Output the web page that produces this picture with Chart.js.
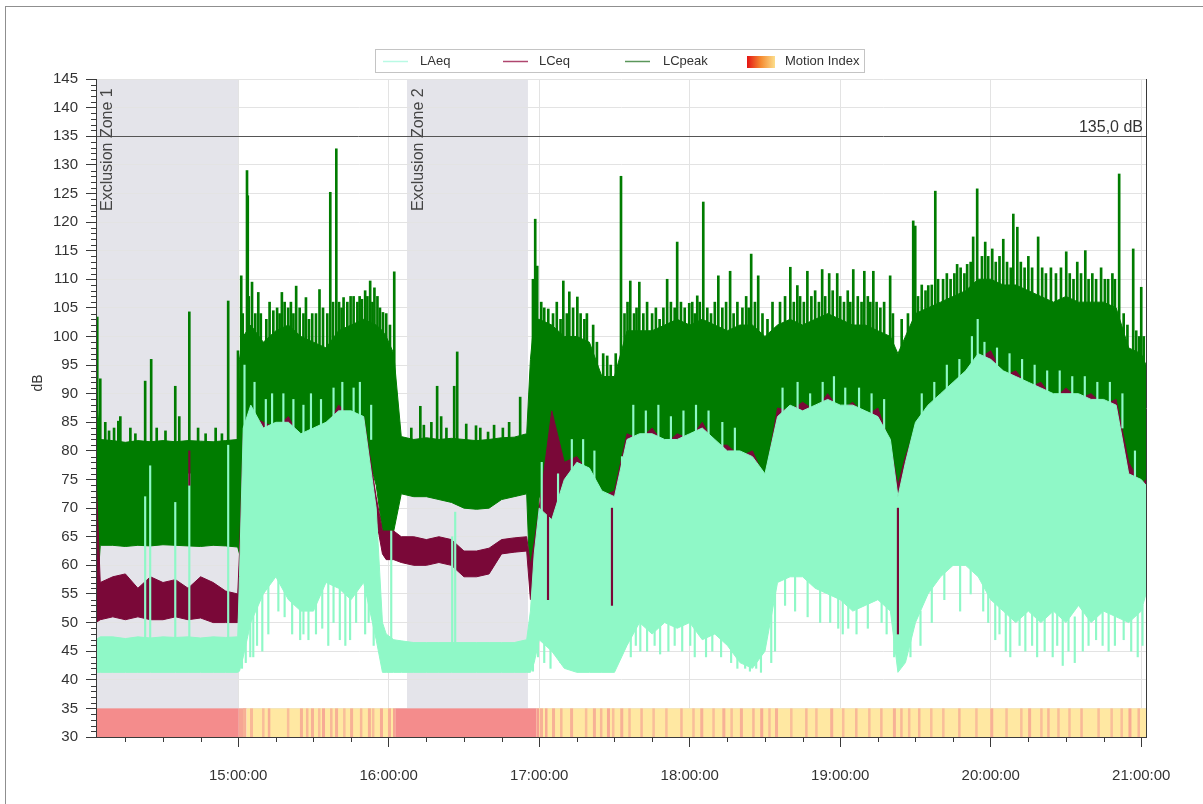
<!DOCTYPE html>
<html>
<head>
<meta charset="utf-8">
<title>Noise monitoring – LAeq / LCeq / LCpeak</title>
<script src="https://cdn.jsdelivr.net/npm/chart.js@4.4.1/dist/chart.umd.min.js"></script>
<style>
  html, body { margin: 0; padding: 0; background: #fff; overflow: hidden; }
  #frame { position: absolute; left: 5px; top: 6px; width: 1400px; height: 1000px;
           border: 1px solid #8f8f8f; box-sizing: border-box; }
  #wrap { position: absolute; left: 0; top: 0; width: 1203px; height: 804px; }
</style>
</head>
<body>
<div id="frame"></div>
<div id="wrap"><canvas id="chart" width="1203" height="804"></canvas></div>
<script>
// ---- time axis: minutes after 14:00 ----
const minutes = [3.3,5,10,15,20,25,30,35,40,45,50,55,59.8,
  60.5,62,65,70,75,80,85,90,95,100,105,110,115,117.5,
  119,122,125,130,135,140,145,150,155,160,165,170,175,
  176.5,178,180,185,190,195,200,205,210,215,220,225,230,235,240,245,250,255,260,265,270,
  275,280,285,290,295,300,305,310,315,320,323,326,330,335,340,345,350,355,360,365,370,375,380,385,390,395,400,405,410,415,420,421.9];

// ---- LCpeak envelope (dB) ----
const lcpeakHigh = [90,82,81.8,81.5,81.8,81.6,81.8,81.6,81.8,81.7,81.6,81.8,82,
  96,100,102,99,101,102,100,99,98,101,102,103,102,101,
  100,97,82.5,82,82.3,82,82.2,82,81.8,82,82.3,82.4,83,
  96,103,103,102,100,100,99,93,93,101,101,101,102,103,102,103,102,101,102,102,100,
  102,103,102,103,104,103,102,102,101,100,97,100,104,105,106,107,108,110,110,109,109,108,107,106,107,106,106,106,105,98,97,95];
const lcpeakLow = [52,63.5,63.5,63.3,63.5,63.4,63.6,63.5,63.4,63.3,63.5,63.4,63.2,
  62,76,80,79,80,80,78,79,80,82,82,82,74,66,
  64,66,72.5,72,72,71.5,71,70,69.8,70,71.5,72,72.5,
  55,60,72,70,74,75,75,71,69,78,79,79,79,79,80,80,78,77,77,76,72,
  82,84,83,84,85,84,84,83,82,78,68,74,81,84,86,88,90,93,92,90,89,88,87,86,86,86,85,85,84,72,71,70];

// ---- LCeq envelope (dB) ----
const lceqHigh = [76,57,58,58.5,56,58,57,57.5,56,58,57,55.5,55,
  62,83,86,85,84,86,82,83,84,88,86,86,72,66,
  66,66,65,65,64.5,65,64.5,62.5,62.5,63,64.5,64.8,65,
  60,64,70,87,78,79,76,72,73,83,82,84,81,83,82,85,81,81,79,80,75,
  87.5,87,88.5,87,90,87,88.5,86,87.5,81,74,79,84,87,89,91,93,96,97.5,93,94,91,92,89,91,89,90,88,89,78,74,75];
const lceqLow = [50,50.5,51,50.5,51,50.5,50.5,51,50.5,50.8,50,50,50,
  55,72,78,76,78,77,76,78,78,80,80,80,68,62,
  61,61,60.5,60,60,60.5,60,58,58,58.5,62,62.3,62.5,
  54,58,64,67,72,74,73,70,68,78,79,79,78,78,79,80,78,76,76,75,72,
  80,82,81,82,83,82,82,81,80,76,66,72,79,82,84,86,88,91,90,88,87,86,85,84,84,84,83,83,82,70,69,68];

// ---- LAeq envelope (dB) ----
const laeqHigh = [47,47.5,47.5,47.2,47.5,47.3,47.5,47.4,47.5,47.3,47.5,47.4,47.5,
  58,84,88,84,85,85,83,84,85,87,87,86,70,50,
  48,47,46.8,46.5,46.5,46.5,46.5,46.5,46.5,46.5,46.5,46.5,47,
  52,62,70,68,75,78,77,73,72,82,83,83,82,82,83,84,82,80,80,79,76,
  86,88,87,88,89,88,88,87,86,82,72,78,85,88,90,92,94,97,96,94,93,92,91,90,90,90,89,89,88,76,75,74];
const laeqLow = [41.3,41.3,41.3,41.3,41.3,41.3,41.3,41.3,41.3,41.3,41.3,41.3,41.3,
  41.5,44,50,55,58,54,52,52,57,56,54,57,47,41.3,
  41.3,41.3,41.3,41.3,41.3,41.3,41.3,41.3,41.3,41.3,41.3,41.3,41.3,
  41.3,43,47,45,42,41.3,41.3,41.3,41.3,46,50,48,50,49,50,47,48,46,43,42,45,
  57,58,58,56,55,54,52,53,54,52,41.3,43,50,55,58,60,60,58,54,52,50,52,50,52,50,53,50,52,51,50,52,55];

// ---- short LCpeak events: [minute, from dB, to dB] ----
const lcpeakSpikes = [
  [3.8,80,103.4],[5,80,92.6],[7,80,85],[8.5,80,83.5],[10.5,80,84],[12.2,80,85.2],[13,80,86],[17,80,84],
  [19,80,83],[22.9,80,92.2],[25.3,80,96],[27.5,80,84],[31,80,83.5],[34.9,80,91.3],[36.5,80,86],
  [40.5,80,104.3],[44,80,84],[47,80,83],[51,80,84],[53.5,80,83],[56,80,106.2],[59.9,80,97.5],
  [61.2,90,110.6],[61.8,95,104],[63.5,95,129],[63.8,95,124.6],[64.2,95,107],[65.5,95,109.5],
  [66.8,95,104],[68,95,107.7],[69,95,104],[71.2,95,103],[72.5,95,106],[74,95,104.5],[75.5,95,105],
  [76.5,95,104],[77.4,95,107.7],[78.5,95,106],[79.9,95,105],[81,95,106],[82,95,104],[83.1,95,108.8],
  [84.5,95,105],[86,95,104],[87,95,106.8],[88.2,95,103],[89.5,95,104],[91,95,104],[92.4,95,108.2],
  [93.8,95,105],[95.5,95,104],[96.7,95,125.2],[97.8,95,106],[99.1,95,132.8],[100.2,95,106],
  [101.2,95,105],[102,95,106.8],[103.5,95,106],[104.8,95,107],[106,95,107],[107.5,95,106],
  [108.4,95,107],[109.3,95,106.5],[110.6,95,108],[111.5,95,107],[112.6,95,109.7],[113.5,95,106],
  [114.3,95,108.5],[115.5,95,107],[116.5,95,105],[117.7,95,104.2],[119,95,104],[120.5,92,102],
  [122.2,90,111.3],
  [129,80,84],[132.6,80,87.8],[134,80,84.5],[137,80,85],[139.3,80,91.3],[140.9,80,86],[143,80,84],
  [146.1,80,91.3],[147.3,80,97.3],[150.9,80,84.7],[154.8,80,84.4],[156.5,80,84],[159.6,80,83.3],
  [162,80,84.5],[165.5,80,84],[168,80,85],[172.4,80,89.4],
  [177.5,90,110],[178.4,95,120.5],[179.2,95,112.3],[180.8,95,106],[182,95,105],[183.6,95,104.8],
  [185.5,95,104],[187,95,106],[188.5,95,103],[189.6,95,109.7],[191,95,104],[192,95,107.8],
  [193.5,95,105],[195.2,95,106.9],[196.5,95,104],[198,95,103],[199,95,104],[201.5,95,102],
  [203,90,99],[205.5,88,97],[207.1,88,96.6],[208.5,88,95],[210.5,88,97],[212.6,90,128],[214,95,104],
  [215.2,95,106],[216.3,95,109.7],[217.8,95,104],[218.8,95,105],[219.9,95,109.5],[221.5,95,104],
  [223,95,106],[225,95,104],[226.5,95,105],[228,95,103],[229.5,95,105],[231,95,110],[232.5,95,106],
  [234,95,105],[235,95,116.5],[236.5,95,106],[238,95,105],[239.8,95,105.8],[241,95,106],[242,95,104],
  [243,95,107.1],[244,95,106],[245.4,95,123.5],[247,95,105],[248.5,95,104],[250,95,106],[251.4,95,110.6],
  [253,95,105],[254.5,95,106],[256.1,95,111.4],[257.5,95,104],[259,95,106],[261,95,105],[262.5,95,107],
  [263.5,95,105],[264.5,95,114.4],[266,95,106],[267.3,95,110.6],[269,95,104],[271,95,103],[273,95,106],
  [276,95,106],[278,95,107],[280.1,95,112.1],[281.5,95,106],[282.9,95,108.9],[284,95,107],[285.5,95,106],
  [286.9,95,111.4],[288.5,95,107],[290,95,108],[291.5,95,106],[292.8,95,111.7],[294,95,107],
  [295.6,95,111],[297,95,108],[298.8,95,111],[300,95,107],[301.5,95,106],[303,95,108],[304,95,106],
  [305.2,95,111.7],[307,95,107],[308.5,95,106],[309.6,95,111.4],[311,95,107],[312,95,106],
  [313.2,95,111.4],[314.5,95,106],[316,95,105],[317.5,95,106],[319.9,95,110.6],[321,95,104],
  [324.5,92,103],[327,95,104],[329.1,95,120.2],[329.9,95,119.3],[331,95,107],[332.5,95,109],
  [334,95,108],[335.1,95,108.9],[336.5,95,109],[337.9,95,125.4],[339,95,110],[341,95,110],
  [342.5,95,111],[344,95,110],[345.5,95,111],[346.6,100,112.6],[348,100,112],[349.5,100,111],
  [350.6,100,112.6],[352,100,113],[353,100,117.4],[354.6,100,125.8],[356.5,100,114],[357.8,100,116.5],
  [359,100,114],[360.6,100,115.3],[362,100,113],[363.5,100,114],[365,100,117],[366.5,100,113],
  [368,100,112],[369,100,121.4],[370.6,100,119.1],[372,100,113],[373.5,100,112],[375,100,114],
  [376.5,100,112],[378.9,100,117.4],[380.5,100,112],[382,100,111],[384,100,112],[386,100,111],
  [388,100,112],[390.1,100,114.8],[391.5,100,111],[393,100,110],[394.5,100,113],[396,100,111],
  [397.7,100,115],[399,100,110],[400.5,100,111],[402,100,110],[404,100,112],[405.5,100,110],
  [406.8,100,110],[408.5,100,111],[409.5,100,110],[411.2,100,128.4],[413,95,104],[414.5,95,102],
  [416.8,95,115.3],[418,92,101],[419.2,92,100],[420,90,108.6],[421,90,100]
];

// ---- short LCeq events ----
const lceqStreaks = [[40.5,74,80],[183.5,54,70],[209,53,70],[323,48,70]];

// ---- short LAeq events ----
const laeqStreaks = [
  [22.9,47,72],[24.9,47,77.4],[34.9,47,71],[40.5,47,76],[56,47,81],
  [121,47,66],[145.3,46.5,65],[146.5,46.5,69.3],
  [62.5,80,95],[66.5,85,92],[71,82,89],[73.5,82,90],[78,83,90],[82,83,89],[86,80,88],[89,82,90],
  [93,83,89],[98,84,91],[101.5,85,92],[106,85,91],[108.5,84,92],[113,82,88],
  [181,65,78],[187.5,66,76],[193,74,82],[197.5,76,82],[202,74,80],[213,70,79],[217.5,80,88],
  [222.5,81,87],[227.5,81,88],[232.5,80,86],[237.5,80,87],[242.5,81,88],[247.5,81,87],[253,79,85],
  [258,78,84],[277,84,91],[283,85,92],[288,85,90],[293,86,92],[297.5,86,93],[302,86,91],[307.5,86,91],
  [312.5,85,90],[317.5,83,89],[332.5,84,90],[337.5,86,92],[342.5,88,95],[347.5,90,96],[352.5,93,100],
  [354.8,95,103],[357.5,94,99],[362.5,93,98],[367.5,91,97],[372.5,90,96],[377.5,89,95],[382.5,88,94],
  [387.5,88,94],[392.5,88,93],[397.5,87,93],[402.5,87,92],[407.5,86,92],[412.5,84,90],[417.5,74,80],
  [61.5,42,48],[63,43,48],[64.8,44,52],[66,44,52],[67.5,46,55],[69.6,45,56],[72,48,57],[76,52,60],
  [78.5,51,58],[81.5,48,55],[84.7,47,54],[86,48,55],[88,47,54],[91,48,55],[93.5,49,57],[95.9,46,58],
  [98,50,57],[100.5,47,56],[102.7,46,57],[104.6,47,55],[107,50,56],[110.6,48,58],[112,50,57],[114,46,52],
  [177.5,41.5,50],[179.5,44,52],[182,43,49],[184.5,42,47],[186.5,45,50],[188.5,43,48],[216.5,44,48],
  [218.5,46,50],[220.3,45,51],[223,45,50],[226,46,50],[228.2,44.5,51],[231.5,45,51],[234,46,50],
  [237,45,51],[240.2,46,51],[242,44,50],[246.5,44,49],[249,45,50],[252.5,44,49],[256.5,43,47],
  [259,42,46],[262.1,42,45],[264,41.5,44],[266.5,42,45],[268.4,41.3,46],[272.5,43,55],[274,45,58],
  [278,53,58],[282,52,59],[287,51,58],[292,50,57],[296,50,56],[299.2,49,55],[301,48,55],[303.2,49,54],
  [306.5,48,54],[311,49,54],[316.5,50,55],[318.5,48,53],[321.5,44,52],[328,44,50],[332,46,52],
  [336.5,50,56],[341.5,54,59],[347.8,52,61],[352,55,61],[357,52,59],[359,50,56],[361.8,47,55],
  [363.5,48,53],[366,45,53],[367.8,44,53],[371.5,46,51],[373.8,45,53],[376.5,46,53],[378.5,44,51],
  [381.5,45,51],[384.7,44,53],[386.5,46,53],[388.7,42.5,51],[391,45,51],[393.5,43,51],[396.7,45,54],
  [399,46,51],[402,47,52],[404.6,46,53],[407,45,53],[409.5,46,52],[413,47,52],[416,45,51],[418.6,44,52],
  [420.5,46,53]
];

// ---- motion index: [from minute, to minute, level 0..1] ----
const motionEvents = [
  [3.3,60.2,1],[60.2,63.3,0.8],[63.3,122.6,0.04],[122.6,179,1],[179,421.9,0.04],
  [61.9,63,0.7],[64.7,65.9,0.65],[69.5,70.5,0.6],[71.8,72.8,0.7],[79.4,80.4,0.6],[84.6,85.8,0.7],
  [87,88,0.65],[89,90.2,0.7],[91.8,92.8,0.6],[93.4,94.6,0.75],[96.6,97.6,0.65],[98.6,99.8,0.7],
  [101.8,102.8,0.6],[104.6,105.8,0.7],[108.5,109.5,0.65],[111.7,112.9,0.7],[113.3,114.3,0.6],
  [116.5,117.7,0.75],[119.7,120.9,0.7],[121.7,122.6,0.8],
  [179,180,0.85],[180.3,181.5,0.7],[182.3,183.3,0.75],[185.1,186.3,0.7],[188.3,189.3,0.65],
  [192.3,193.5,0.7],[198.2,199.2,0.6],[201.4,202.6,0.7],[204.2,205.2,0.65],[207,208.2,0.75],
  [209,210,0.6],[212.3,213.5,0.7],[215.5,216.5,0.6],[220.3,221.3,0.65],[225.1,226.1,0.6],
  [230.2,231.2,0.6],[236.2,237.2,0.65],[241,242,0.6],[244.2,245.4,0.7],[249,250,0.6],
  [253,254.2,0.7],[256.2,257.2,0.6],[260,261.2,0.7],[264.9,265.9,0.65],[268.1,269.3,0.75],
  [271.3,272.3,0.6],[274,275.2,0.7],[280,281,0.6],[286,287,0.65],[290,291,0.6],[296,297.2,0.7],
  [300.7,301.7,0.6],[305.9,306.9,0.65],[311.1,312.1,0.6],[315.9,316.9,0.65],[321,322.2,0.7],
  [323.9,324.9,0.65],[327,328,0.6],[331,332,0.65],[335.8,336.8,0.6],[340.6,341.6,0.6],
  [347,348,0.65],[353.8,354.8,0.6],[359.8,361,0.7],[365.8,366.8,0.6],[371.7,372.7,0.6],
  [374.9,376.1,0.7],[379.7,380.7,0.6],[382.5,383.5,0.65],[386.5,387.5,0.6],[390.9,391.9,0.6],
  [395.7,396.7,0.65],[402.5,403.5,0.6],[407.7,408.7,0.6],[411.7,412.7,0.6],[414.9,416.1,0.75],
  [418.5,419.5,0.65]
];

// ---- annotations ----
const zoneStart = [3.3, 127.3];
const zoneEnd = [60, 175.5];
const zoneLabels = ['Exclusion Zone 1', 'Exclusion Zone 2'];
const limitValue = 135;
const limitLabel = '135,0 dB';
const hourTicks = [60, 120, 180, 240, 300, 360, 420];
const legendNames = ['LAeq', 'LCeq', 'LCpeak', 'Motion Index'];

// ---- styling ----
const FONT = "'Liberation Sans', Arial, sans-serif";
Chart.defaults.font.family = FONT;
Chart.defaults.color = '#333';
const MINT = 'rgb(143,248,199)';
const MAROON = 'rgb(122,8,56)';
const GREEN = 'rgb(0,124,0)';
const ZONE_FILL = '#e4e4ea';
const GRID = '#e3e3e3';
const AXIS = '#3a3a3a';

const pts = ys => minutes.map((t, i) => ({ x: t, y: ys[i] }));
const bars = rows => rows.map(r => ({ x: r[0], y: [r[1], r[2]] }));

function lineSet(label, ys, colour, fill, order) {
  return { type: 'line', label, data: pts(ys), borderColor: colour, backgroundColor: colour,
           borderWidth: 1, pointRadius: 0, tension: 0, fill, order };
}
function barSet(label, rows, colour, order, thickness) {
  return { type: 'bar', label, data: bars(rows), backgroundColor: colour, borderWidth: 0,
           barThickness: thickness, grouped: false, order };
}

// red → orange → yellow, laid at half strength over white
function motionColour(level) {
  const stops = [[255, 214, 70], [245, 150, 60], [232, 24, 24]];
  const p = Math.max(0, Math.min(1, level)) * 2;
  const i = Math.min(1, Math.floor(p));
  const f = p - i;
  const c = stops[i].map((v, k) => v + (stops[i + 1][k] - v) * f);
  const w = c.map(v => Math.round(255 - (255 - v) * 0.5));
  return `rgb(${w[0]},${w[1]},${w[2]})`;
}

const hourLabel = v => String(14 + Math.round(v / 60)).padStart(2, '0') + ':00:00';

const decorations = {
  id: 'decorations',
  beforeDraw(chart) {
    const { ctx, chartArea: a, scales: { x, y } } = chart;
    ctx.save();
    ctx.fillStyle = ZONE_FILL;
    const yb = y.getPixelForValue(35);
    zoneStart.forEach((s, i) => {
      const x0 = x.getPixelForValue(s), x1 = x.getPixelForValue(zoneEnd[i]);
      ctx.fillRect(x0, a.top, x1 - x0, yb - a.top);
    });
    ctx.restore();
  },
  beforeDatasetsDraw(chart) {
    const { ctx, scales: { x, y } } = chart;
    const y0 = y.getPixelForValue(35), y1 = y.getPixelForValue(30);
    ctx.save();
    motionEvents.forEach(([s, e, lvl]) => {
      const x0 = x.getPixelForValue(s), x1 = x.getPixelForValue(e);
      ctx.fillStyle = motionColour(lvl);
      ctx.fillRect(x0, y0, x1 - x0, y1 - y0);
    });
    ctx.restore();
  },
  afterDatasetsDraw(chart) {
    const { ctx, chartArea: a, scales: { x, y } } = chart;
    ctx.save();
    const ly = Math.round(y.getPixelForValue(limitValue)) + 0.5;
    ctx.strokeStyle = '#555';
    ctx.lineWidth = 1;
    ctx.beginPath(); ctx.moveTo(a.left, ly); ctx.lineTo(a.right, ly); ctx.stroke();
    ctx.fillStyle = '#333';
    ctx.font = '16px ' + FONT;
    ctx.textAlign = 'right';
    ctx.textBaseline = 'alphabetic';
    ctx.fillText(limitLabel, a.right - 3, ly - 5);
    ctx.fillStyle = '#444';
    zoneStart.forEach((s, i) => {
      ctx.save();
      ctx.translate(x.getPixelForValue(s) + 16, a.top + 132);
      ctx.rotate(-Math.PI / 2);
      ctx.textAlign = 'left';
      ctx.fillText(zoneLabels[i], 0, 0);
      ctx.restore();
    });
    ctx.strokeStyle = AXIS;
    ctx.beginPath();
    ctx.moveTo(Math.round(a.left) + 0.5, a.top); ctx.lineTo(Math.round(a.left) + 0.5, a.bottom + 0.5);
    ctx.moveTo(a.left, Math.round(a.bottom) + 0.5); ctx.lineTo(a.right, Math.round(a.bottom) + 0.5);
    ctx.moveTo(Math.round(a.right) + 0.5, a.top); ctx.lineTo(Math.round(a.right) + 0.5, a.bottom + 0.5);
    ctx.stroke();
    ctx.beginPath();
    for (let v = 31; v < 145; v++) {
      if (v % 5 === 0) continue;
      const py = Math.round(y.getPixelForValue(v)) + 0.5;
      ctx.moveTo(a.left - 5, py); ctx.lineTo(a.left, py);
    }
    for (let t = 15; t <= 420; t += 15) {
      if (t % 60 === 0) continue;
      const px = Math.round(x.getPixelForValue(t)) + 0.5;
      ctx.moveTo(px, a.bottom); ctx.lineTo(px, a.bottom + 5);
    }
    ctx.stroke();
    ctx.restore();
  },
  afterDraw(chart) {
    const { ctx } = chart;
    ctx.save();
    ctx.fillStyle = '#333';
    ctx.font = '14px ' + FONT;
    ctx.translate(38, 383);
    ctx.rotate(-Math.PI / 2);
    ctx.textAlign = 'center';
    ctx.textBaseline = 'middle';
    ctx.fillText('dB', 0, 0);
    ctx.restore();

    ctx.save();
    ctx.strokeStyle = '#c4c4c4';
    ctx.lineWidth = 1;
    ctx.strokeRect(375.5, 49.5, 489, 23);
    const midY = 61.5;
    const swatches = [
      { x: 383, colour: 'rgb(185,250,228)', text: 420 },
      { x: 503, colour: 'rgb(175,70,110)', text: 539 },
      { x: 625, colour: 'rgb(90,150,90)', text: 663 }
    ];
    ctx.font = '13px ' + FONT;
    ctx.textBaseline = 'middle';
    ctx.textAlign = 'left';
    ctx.lineWidth = 1.5;
    swatches.forEach((s, i) => {
      ctx.strokeStyle = s.colour;
      ctx.beginPath(); ctx.moveTo(s.x, midY); ctx.lineTo(s.x + 25, midY); ctx.stroke();
      ctx.fillStyle = '#333';
      ctx.fillText(legendNames[i], s.text, midY);
    });
    const g = ctx.createLinearGradient(747, 0, 775, 0);
    g.addColorStop(0, 'rgb(228,20,20)');
    g.addColorStop(0.5, 'rgb(245,140,50)');
    g.addColorStop(1, 'rgb(252,222,140)');
    ctx.fillStyle = g;
    ctx.fillRect(747, 56, 28, 12);
    ctx.fillStyle = '#333';
    ctx.fillText(legendNames[3], 785, midY);
    ctx.restore();
  }
};

new Chart(document.getElementById('chart'), {
  type: 'line',
  data: {
    datasets: [
      barSet('LCeq events', lceqStreaks, MAROON, -1, 1.5),
      lineSet('LAeq', laeqHigh, MINT, '+1', 0),
      lineSet('LAeq min', laeqLow, MINT, false, 0),
      barSet('LAeq events', laeqStreaks, MINT, 1, 1.5),
      lineSet('LCeq', lceqHigh, MAROON, '+1', 2),
      lineSet('LCeq min', lceqLow, MAROON, false, 2),
      lineSet('LCpeak', lcpeakHigh, GREEN, '+1', 4),
      lineSet('LCpeak min', lcpeakLow, GREEN, false, 4),
      barSet('LCpeak events', lcpeakSpikes, GREEN, 5, 2)
    ]
  },
  options: {
    responsive: false,
    animation: false,
    events: [],
    layout: { padding: { top: 79, right: 57, bottom: 0, left: 0 } },
    plugins: { legend: { display: false }, tooltip: { enabled: false } },
    scales: {
      x: {
        type: 'linear', min: 3.3, max: 421.9, offset: false,
        grid: { offset: false, color: GRID, tickColor: AXIS, tickLength: 10, drawTicks: true },
        border: { display: true, color: AXIS },
        ticks: { color: '#333', font: { size: 15 }, padding: 20, maxRotation: 0, autoSkip: false,
                 callback: v => hourLabel(v) },
        afterBuildTicks: s => { s.ticks = hourTicks.map(v => ({ value: v })); },
        afterFit: s => { s.height = 67; }
      },
      y: {
        type: 'linear', min: 30, max: 145,
        grid: { color: GRID, tickColor: AXIS, tickLength: 10, drawTicks: true },
        border: { display: true, color: AXIS },
        ticks: { stepSize: 5, color: '#333', font: { size: 15 }, padding: 8, autoSkip: false },
        afterFit: s => { s.width = 96; }
      }
    }
  },
  plugins: [decorations]
});
</script>
</body>
</html>
